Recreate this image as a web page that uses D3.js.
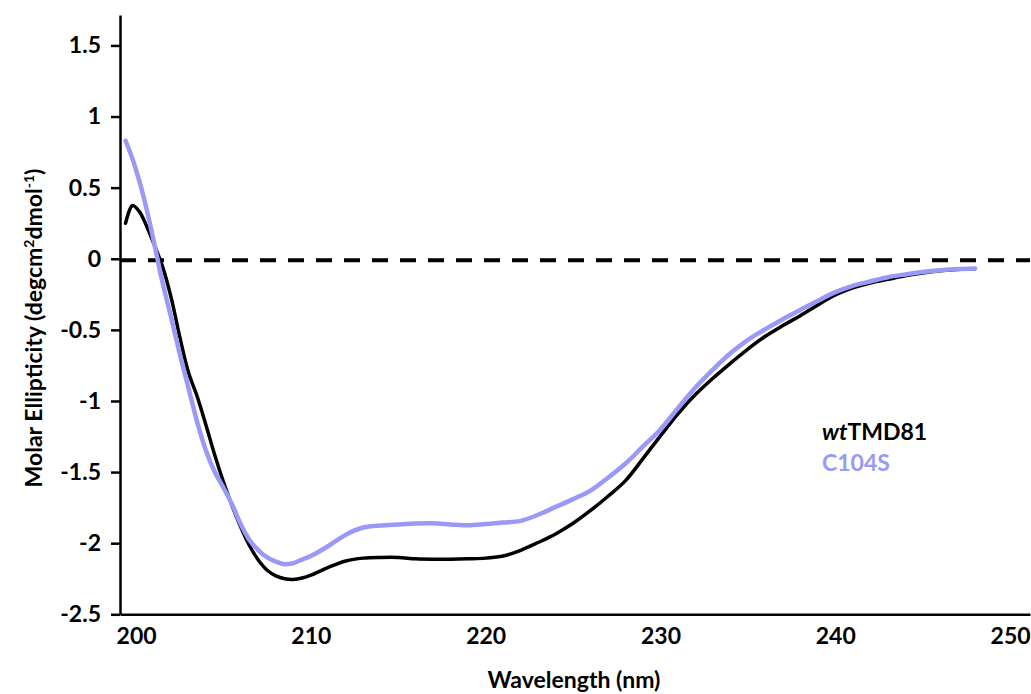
<!DOCTYPE html>
<html>
<head>
<meta charset="utf-8">
<script src="https://cdnjs.cloudflare.com/ajax/libs/d3/7.8.5/d3.min.js"></script>
<style>
  body { margin: 0; background: #fff; }
  .chart text { font-family: Lato, "Open Sans", sans-serif; font-weight: 700; fill: #000; }
</style>
</head>
<body>
<div id="chart"></div>
<script>
// wavelengths (nm) shared by both spectra
var wavelengths = [199.4, 199.8, 200.2, 200.6, 201, 201.5, 202, 202.5, 203, 203.5, 204, 204.5,
  205, 205.5, 206, 206.5, 207, 207.5, 208, 208.5, 209, 209.5, 210, 211, 212, 213, 214, 215,
  216, 217, 218, 219, 220, 221, 222, 223, 224, 225, 226, 227, 228, 229, 230, 231, 232, 233,
  234, 235, 236, 237, 238, 239, 240, 241, 242, 243, 244, 245, 246, 247, 248];

var wtValues = [0.25, 0.375, 0.33, 0.23, 0.11, -0.05, -0.27, -0.55, -0.8, -0.97, -1.17, -1.38,
  -1.57, -1.74, -1.89, -2.02, -2.12, -2.19, -2.23, -2.25, -2.255, -2.245, -2.225, -2.17, -2.125, -2.105, -2.1, -2.1,
  -2.11, -2.113, -2.113, -2.11, -2.105, -2.09, -2.05, -1.995, -1.935, -1.86, -1.77, -1.67, -1.56, -1.405, -1.245, -1.09, -0.955, -0.84,
  -0.735, -0.635, -0.545, -0.47, -0.4, -0.325, -0.255, -0.205, -0.17, -0.145, -0.12, -0.1, -0.085, -0.075, -0.07];

var mutValues = [0.83, 0.7, 0.54, 0.35, 0.13, -0.16, -0.41, -0.67, -0.91, -1.15, -1.35, -1.5,
  -1.61, -1.73, -1.87, -1.98, -2.05, -2.1, -2.13, -2.148, -2.14, -2.115, -2.09, -2.02, -1.94, -1.89, -1.875, -1.868,
  -1.862, -1.86, -1.868, -1.874, -1.865, -1.855, -1.843, -1.8, -1.745, -1.69, -1.63, -1.54, -1.44, -1.32, -1.2, -1.05, -0.905, -0.78,
  -0.665, -0.57, -0.495, -0.425, -0.36, -0.295, -0.235, -0.19, -0.16, -0.13, -0.11, -0.093, -0.08, -0.072, -0.068];

var seriesNames = ["wtTMD81", "C104S"];
var seriesColors = ["#000000", "#9999f8"];
var xTicks = [200, 210, 220, 230, 240, 250];
var yTicks = [-2.5, -2, -1.5, -1, -0.5, 0, 0.5, 1, 1.5];

var width = 1031;
var height = 694;
var fontSize = "23px";

var svg = d3
  .select("#chart")
  .append("svg")
  .attr("width", width)
  .attr("height", height)
  .attr("class", "chart");

var xScale = d3.scaleLinear().domain([199.08, 251.14]).range([120, 1030]);
var yScale = d3.scaleLinear().domain([-2.5, 1.714]).range([614.3, 15]);

var xAxis = d3.axisBottom(xScale).tickValues(xTicks).tickSize(0).tickPadding(13)
  .tickFormat(d3.format("d"));
var yAxis = d3.axisLeft(yScale).tickValues(yTicks).tickSizeInner(9).tickSizeOuter(0).tickPadding(10)
  .tickFormat(function(d) { return d; });

var gx = svg.append("g")
  .attr("class", "xAxis")
  .attr("transform", "translate(0," + yScale(-2.5) + ")")
  .call(xAxis);
gx.select(".domain").attr("stroke", "#000").attr("stroke-width", 2.5);
gx.selectAll("text").style("font-size", fontSize);

var gy = svg.append("g")
  .attr("class", "yAxis")
  .attr("transform", "translate(" + xScale.range()[0] + ",0)")
  .call(yAxis);
gy.select(".domain").attr("stroke", "#000").attr("stroke-width", 2.5);
gy.selectAll(".tick line").attr("stroke", "#000").attr("stroke-width", 2.5);
gy.selectAll("text").style("font-size", fontSize);

// zero reference
svg.append("line")
  .attr("x1", xScale.range()[0])
  .attr("x2", xScale.range()[1])
  .attr("y1", yScale(0) + 1.5)
  .attr("y2", yScale(0) + 1.5)
  .attr("stroke", "#000")
  .attr("stroke-width", 4)
  .attr("stroke-dasharray", "16,12");

var line = d3.line()
  .x(function(d) { return xScale(d[0]); })
  .y(function(d) { return yScale(d[1]); })
  .curve(d3.curveCatmullRom.alpha(0.5));

var allSeries = [wtValues, mutValues];
var lineWidths = [3.5, 4.5];

allSeries.forEach(function(vals, i) {
  svg.append("path")
    .datum(wavelengths.map(function(w, j) { return [w, vals[j]]; }))
    .attr("fill", "none")
    .attr("stroke", seriesColors[i])
    .attr("stroke-width", lineWidths[i])
    .attr("stroke-linecap", "round")
    .attr("stroke-linejoin", "round")
    .attr("d", line);
});

// legend
var legend = svg.append("g").attr("transform", "translate(822,440)");
var wtLabel = legend.append("text").style("font-size", fontSize).attr("fill", seriesColors[0]);
wtLabel.append("tspan").style("font-style", "italic").text(seriesNames[0].slice(0, 2));
wtLabel.append("tspan").text(seriesNames[0].slice(2));
legend.append("text")
  .attr("y", 31)
  .style("font-size", fontSize)
  .style("fill", seriesColors[1])
  .text(seriesNames[1]);

// axis titles
svg.append("text")
  .attr("x", 574)
  .attr("y", 688)
  .attr("text-anchor", "middle")
  .style("font-size", fontSize)
  .text("Wavelength (nm)");

var yTitle = svg.append("text")
  .attr("transform", "translate(42,328)rotate(-90)")
  .attr("text-anchor", "middle")
  .style("font-size", fontSize);
yTitle.append("tspan").text("Molar Ellipticity (degcm");
yTitle.append("tspan").attr("dy", -8).style("font-size", "14px").text("2");
yTitle.append("tspan").attr("dy", 8).text("dmol");
yTitle.append("tspan").attr("dy", -8).style("font-size", "14px").text("-1");
yTitle.append("tspan").attr("dy", 8).text(")");
</script>
</body>
</html>
